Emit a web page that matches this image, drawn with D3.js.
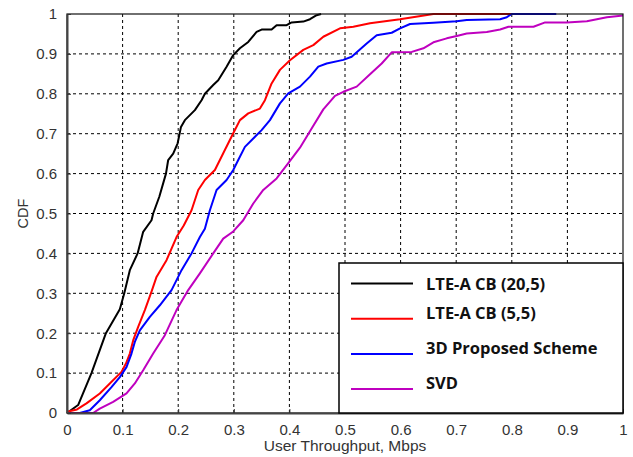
<!DOCTYPE html>
<html>
<head>
<meta charset="utf-8">
<script src="https://cdn.jsdelivr.net/npm/d3@7"></script>
<style>
  body { margin: 0; background: #fff; }
  svg { display: block; }
  .tick-label { font-family: "Liberation Sans", Arial, sans-serif; font-size: 15px; fill: #333; }
  .legend-text { font-family: "Open Sans", sans-serif; font-weight: bold; font-size: 16.5px; fill: #111; }
</style>
</head>
<body>
<svg id="cdf-svg" width="633" height="457"></svg>
<script>
// axis ticks
let xTicks = [0, 0.1, 0.2, 0.3, 0.4, 0.5, 0.6, 0.7, 0.8, 0.9, 1];
let yTicks = [0, 0.1, 0.2, 0.3, 0.4, 0.5, 0.6, 0.7, 0.8, 0.9, 1];
let xTitle = 'User Throughput, Mbps';
let yTitle = 'CDF';

let seriesNames = ['LTE-A CB (20,5)', 'LTE-A CB (5,5)', '3D Proposed Scheme', 'SVD'];
let seriesColors = ['#000000', '#ff0000', '#0000ff', '#bf00bf'];

// values, [throughput, cdf]
let cb20 = [[0, 0], [0.02, 0.02], [0.044, 0.1], [0.07, 0.2], [0.095, 0.26], [0.103, 0.3], [0.113, 0.358],
  [0.127, 0.4], [0.137, 0.454], [0.152, 0.483], [0.155, 0.5], [0.166, 0.542], [0.178, 0.6], [0.182, 0.634],
  [0.191, 0.65], [0.199, 0.676], [0.205, 0.717], [0.212, 0.734], [0.23, 0.759], [0.242, 0.784], [0.248, 0.8],
  [0.263, 0.822], [0.272, 0.834], [0.287, 0.868], [0.299, 0.897], [0.311, 0.914], [0.326, 0.93], [0.341, 0.955],
  [0.35, 0.961], [0.368, 0.961], [0.377, 0.972], [0.395, 0.972], [0.404, 0.979], [0.425, 0.981], [0.437, 0.987],
  [0.449, 0.997], [0.457, 1]];
let cb5 = [[0, 0.003], [0.018, 0.009], [0.035, 0.024], [0.059, 0.049], [0.077, 0.074], [0.098, 0.103],
  [0.106, 0.124], [0.113, 0.149], [0.119, 0.182], [0.128, 0.216], [0.14, 0.258], [0.152, 0.304], [0.161, 0.341],
  [0.179, 0.383], [0.197, 0.441], [0.21, 0.47], [0.224, 0.508], [0.236, 0.559], [0.248, 0.584], [0.266, 0.609],
  [0.281, 0.651], [0.299, 0.701], [0.311, 0.734], [0.326, 0.751], [0.347, 0.763], [0.356, 0.784], [0.368, 0.826],
  [0.383, 0.86], [0.401, 0.884], [0.425, 0.91], [0.443, 0.922], [0.461, 0.943], [0.491, 0.964], [0.515, 0.968],
  [0.545, 0.977], [0.599, 0.987], [0.659, 1], [0.8, 1]];
let prop3d = [[0, 0], [0.023, 0], [0.041, 0.007], [0.059, 0.032], [0.08, 0.065], [0.095, 0.09], [0.107, 0.115],
  [0.116, 0.149], [0.122, 0.178], [0.131, 0.207], [0.149, 0.241], [0.167, 0.27], [0.188, 0.308], [0.206, 0.358],
  [0.224, 0.4], [0.239, 0.441], [0.248, 0.462], [0.257, 0.508], [0.269, 0.559], [0.287, 0.584], [0.299, 0.609],
  [0.308, 0.634], [0.32, 0.667], [0.335, 0.688], [0.35, 0.709], [0.365, 0.734], [0.383, 0.776], [0.398, 0.801],
  [0.419, 0.818], [0.437, 0.843], [0.452, 0.868], [0.467, 0.876], [0.497, 0.885], [0.512, 0.893], [0.539, 0.926],
  [0.557, 0.947], [0.584, 0.953], [0.599, 0.964], [0.617, 0.975], [0.659, 0.978], [0.701, 0.982], [0.719, 0.985],
  [0.779, 0.987], [0.791, 0.992], [0.8, 1], [0.88, 1]];
let svd = [[0, 0], [0.047, 0], [0.059, 0.011], [0.083, 0.028], [0.107, 0.049], [0.122, 0.074], [0.137, 0.107],
  [0.155, 0.149], [0.176, 0.195], [0.197, 0.258], [0.218, 0.308], [0.239, 0.35], [0.263, 0.4], [0.281, 0.437],
  [0.299, 0.455], [0.317, 0.483], [0.335, 0.525], [0.353, 0.559], [0.377, 0.588], [0.398, 0.626], [0.419, 0.665],
  [0.44, 0.713], [0.461, 0.761], [0.482, 0.795], [0.497, 0.805], [0.521, 0.818], [0.545, 0.849], [0.566, 0.876],
  [0.584, 0.904], [0.62, 0.905], [0.641, 0.914], [0.659, 0.929], [0.683, 0.939], [0.701, 0.945], [0.719, 0.951],
  [0.755, 0.955], [0.779, 0.961], [0.794, 0.968], [0.839, 0.968], [0.86, 0.979], [0.899, 0.979], [0.935, 0.982],
  [0.953, 0.987], [0.971, 0.992], [1, 0.996]];
let seriesData = [cb20, cb5, prop3d, svd];

let svg = d3.select('#cdf-svg');
let padding = {t: 14, r: 10, b: 44, l: 67};
let chartWidth = 623 - padding.l;
let chartHeight = 413 - padding.t;

let xScale = d3.scaleLinear().domain([0, 1]).range([0, chartWidth]);
let yScale = d3.scaleLinear().domain([0, 1]).range([chartHeight, 0]);

let chartG = svg.append('g')
    .attr('transform', `translate(${padding.l},${padding.t})`);

// dashed grid
let gridG = chartG.append('g').attr('class', 'grid');
gridG.selectAll('.vgrid')
    .data(xTicks.slice(1, -1))
    .enter().append('line')
    .attr('x1', d => xScale(d)).attr('x2', d => xScale(d))
    .attr('y1', 0).attr('y2', chartHeight)
    .attr('stroke', '#000').attr('stroke-width', 1)
    .attr('stroke-dasharray', '3,3');
gridG.selectAll('.hgrid')
    .data(yTicks.slice(1, -1))
    .enter().append('line')
    .attr('x1', 0).attr('x2', chartWidth)
    .attr('y1', d => yScale(d)).attr('y2', d => yScale(d))
    .attr('stroke', '#000').attr('stroke-width', 1)
    .attr('stroke-dasharray', '3,3');

// lines
let lineFun = d3.line()
    .x(d => xScale(d[0]))
    .y(d => yScale(d[1]));
chartG.selectAll('.series')
    .data(seriesData)
    .enter().append('path')
    .attr('class', 'series')
    .attr('fill', 'none')
    .attr('stroke', (d, i) => seriesColors[i])
    .attr('stroke-width', 2)
    .attr('stroke-linejoin', 'round')
    .attr('d', lineFun);

// frame
chartG.append('rect')
    .attr('width', chartWidth).attr('height', chartHeight)
    .attr('fill', 'none').attr('stroke', '#111').attr('stroke-width', 1.2);

// axes, matlab style ticks pointing inside
let xAxis = d3.axisBottom(xScale).tickValues(xTicks).tickSizeInner(-4).tickSizeOuter(0)
    .tickPadding(11).tickFormat(d3.format('~g'));
let yAxis = d3.axisLeft(yScale).tickValues(yTicks).tickSizeInner(-4).tickSizeOuter(0)
    .tickPadding(10).tickFormat(d3.format('~g'));
let xAxisG = chartG.append('g')
    .attr('transform', `translate(0,${chartHeight})`)
    .call(xAxis);
let yAxisG = chartG.append('g').call(yAxis);
[xAxisG, yAxisG].forEach(g => {
    g.select('.domain').attr('stroke', '#444').attr('stroke-width', 2);
    g.selectAll('.tick line').attr('stroke', '#333');
    g.selectAll('text').attr('class', 'tick-label').attr('fill', null);
    g.attr('font-family', null).attr('font-size', null);
});

svg.append('text')
    .attr('class', 'tick-label')
    .attr('x', padding.l + chartWidth / 2)
    .attr('y', 451)
    .attr('text-anchor', 'middle')
    .style('font-size', '15.5px')
    .text(xTitle);
svg.append('text')
    .attr('class', 'tick-label')
    .attr('transform', `translate(28,213.5) rotate(-90)`)
    .attr('text-anchor', 'middle')
    .style('font-size', '14.5px')
    .text(yTitle);

// legend
let legendG = chartG.append('g')
    .attr('transform', `translate(${chartWidth - 284},${chartHeight - 150})`);
legendG.append('rect')
    .attr('width', 284).attr('height', 150)
    .attr('fill', '#fff').attr('stroke', '#000').attr('stroke-width', 1.5);
let legendRows = legendG.selectAll('.legend-row')
    .data(seriesNames)
    .enter().append('g')
    .attr('transform', (d, i) => `translate(0,${20.5 + i * 35.2})`);
legendRows.append('line')
    .attr('x1', 12).attr('x2', 74)
    .attr('y1', 0).attr('y2', 0)
    .attr('stroke', (d, i) => seriesColors[i])
    .attr('stroke-width', 2);
legendRows.append('text')
    .attr('class', 'legend-text')
    .attr('x', 87)
    .attr('y', (d, i) => i === 0 ? 6 : 0)
    .text(d => d);
</script>
</body>
</html>
